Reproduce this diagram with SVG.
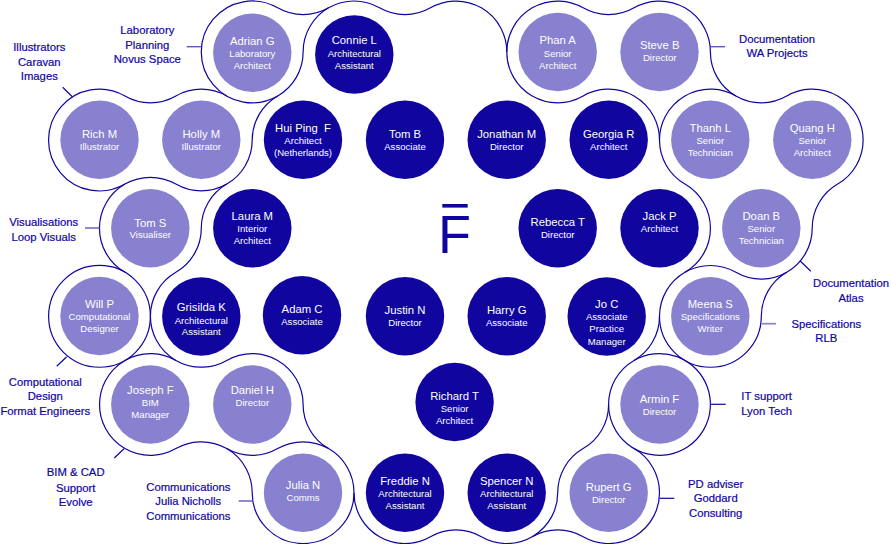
<svg xmlns="http://www.w3.org/2000/svg" width="891" height="544" viewBox="0 0 891 544">
<style>
text{font-family:"Liberation Sans",Arial,sans-serif;text-anchor:middle}
.d{fill:#10069f}.l{fill:#8781cf}
.n{font-size:11.3px;fill:#fff}
.r{font-size:9.6px;fill:#fff}
.t{font-size:11.3px;fill:#10069f;stroke:#10069f;stroke-width:.2}
.o{fill:none;stroke:#10069f;stroke-width:1.2}
.c{fill:none;stroke:#10069f;stroke-width:1.2}
.m{stroke:#5f57bd;stroke-width:1.4}
.p{stroke:#8781cf;stroke-width:1.7}
</style>
<rect width="891" height="544" fill="#fff"/>
<g id="outlines" class="o">
<path d="M328.55,7.85A50.9,50.9 0 0 1 379.5,7.85A50.9,50.9 0 0 0 430.45,7.85A50.9,50.9 0 0 1 506.8,51.9A50.9,50.9 0 0 0 583.15,96A50.9,50.9 0 0 1 659.5,140.05A50.9,50.9 0 0 0 684.95,184.1A50.9,50.9 0 0 1 684.95,272.3A50.9,50.9 0 0 0 659.5,316.35A50.9,50.9 0 0 1 634.05,360.4A50.9,50.9 0 0 0 608.6,404.5A50.9,50.9 0 0 1 583.15,448.6A50.9,50.9 0 0 0 557.7,492.65A50.9,50.9 0 0 1 481.35,536.7A50.9,50.9 0 0 0 430.45,536.7A50.9,50.9 0 0 1 354,492.65A50.9,50.9 0 0 0 328.55,448.6A50.9,50.9 0 0 1 303.1,404.5A50.9,50.9 0 0 0 226.75,360.4A50.9,50.9 0 0 1 150.4,316.35A50.9,50.9 0 0 1 175.85,272.3A50.9,50.9 0 0 0 201.3,228.2A50.9,50.9 0 0 1 226.75,184.1A50.9,50.9 0 0 0 252.2,140.05A50.9,50.9 0 0 1 277.65,96A50.9,50.9 0 0 0 303.1,51.9A50.9,50.9 0 0 1 328.55,7.85Z"/>
<path d="M277.65,96A50.9,50.9 0 1 1 277.65,7.85A50.9,50.9 0 0 0 328.55,7.85"/>
<path d="M226.75,96A50.9,50.9 0 0 0 175.85,96A50.9,50.9 0 0 1 124.95,96A50.9,50.9 0 1 0 124.95,184.1A50.9,50.9 0 0 1 175.85,184.1A50.9,50.9 0 0 0 226.75,184.1"/>
<path d="M124.95,184.1A50.9,50.9 0 0 0 124.95,272.3"/>
<circle cx="99.5" cy="316.35" r="50.9"/>
<path d="M175.85,360.4A50.9,50.9 0 1 0 175.85,448.6A50.9,50.9 0 0 1 252.2,492.65A50.9,50.9 0 0 0 303.1,543.55A50.9,50.9 0 0 0 354,492.65"/>
<path d="M226.75,448.6A50.9,50.9 0 0 0 277.65,448.6A50.9,50.9 0 0 1 328.55,448.6"/>
<path d="M506.8,51.9A50.9,50.9 0 0 1 583.15,7.85A50.9,50.9 0 0 0 634.05,7.85A50.9,50.9 0 0 1 710.4,51.9A50.9,50.9 0 0 0 786.75,96A50.9,50.9 0 0 1 863.1,140.05A50.9,50.9 0 0 1 837.65,184.1A50.9,50.9 0 0 0 812.2,228.2A50.9,50.9 0 0 1 786.75,272.3A50.9,50.9 0 0 1 735.85,272.3A50.9,50.9 0 0 0 684.95,272.3"/>
<path d="M786.75,272.3A50.9,50.9 0 0 0 761.3,316.35A50.9,50.9 0 0 1 710.4,367.25A50.9,50.9 0 0 1 659.5,316.35"/>
<path d="M659.5,140.05A50.9,50.9 0 0 1 735.85,96"/>
<path d="M634.05,360.4A50.9,50.9 0 1 1 608.6,404.5"/>
<path d="M634.05,448.6A50.9,50.9 0 0 1 659.5,492.65A50.9,50.9 0 0 1 583.15,536.7A50.9,50.9 0 0 0 532.25,536.7"/>
</g>
<g id="connectors" class="c">
<path class="m" d="M186.7,46.7H201.5"/>
<path d="M62.7,87.3L72.3,96.7"/>
<path class="m" d="M85,228H99.5"/>
<path class="m" d="M710.7,46.7H725"/>
<path d="M800,260.7L810.8,271.3"/>
<path class="p" d="M761.7,323.7H776"/>
<path d="M710.7,404.3H725.7"/>
<path d="M659.5,498.3H674.3"/>
<path d="M66.7,356.7L56.7,366.3"/>
<path d="M124,448.7L114.3,458"/>
<path class="m" d="M238.7,501H253"/>
</g>
<g id="logo" class="d">
<rect x="442.3" y="204" width="25.4" height="3.6"/>
<text x="438" y="252.7" style="font-size:54px;text-anchor:start;fill:#10069f">F</text>
</g>
<g id="adrian-g"><circle class="l" cx="252.3" cy="52.7" r="39.2"/><text class="n" x="252.3" y="45">Adrian G</text><text class="r" x="252.3" y="57.3">Laboratory</text><text class="r" x="252.3" y="69.3">Architect</text></g>
<g id="connie-l"><circle class="d" cx="354.3" cy="54.5" r="39.2"/><text class="n" x="354.3" y="44">Connie L</text><text class="r" x="354.3" y="56.7">Architectural</text><text class="r" x="354.3" y="68.7">Assistant</text></g>
<g id="phan-a"><circle class="l" cx="557.7" cy="52" r="39.2"/><text class="n" x="557.7" y="44.3">Phan A</text><text class="r" x="557.7" y="56.7">Senior</text><text class="r" x="557.7" y="68.7">Architect</text></g>
<g id="steve-b"><circle class="l" cx="659.5" cy="52" r="39.2"/><text class="n" x="659.7" y="49">Steve B</text><text class="r" x="659.7" y="61.3">Director</text></g>
<g id="rich-m"><circle class="l" cx="99.5" cy="139.8" r="39.2"/><text class="n" x="99.5" y="138.3">Rich M</text><text class="r" x="99.5" y="150">Illustrator</text></g>
<g id="holly-m"><circle class="l" cx="201.3" cy="139.8" r="39.2"/><text class="n" x="201.3" y="138.3">Holly M</text><text class="r" x="201.3" y="150">Illustrator</text></g>
<g id="hui-ping-f"><circle class="d" cx="303" cy="139.8" r="39.2"/><text class="n" x="303" y="132.3" xml:space="preserve">Hui Ping  F</text><text class="r" x="303" y="144.3">Architect</text><text class="r" x="303" y="156.3">(Netherlands)</text></g>
<g id="tom-b"><circle class="d" cx="405" cy="139.8" r="39.2"/><text class="n" x="405" y="138.3">Tom B</text><text class="r" x="405" y="150">Associate</text></g>
<g id="jonathan-m"><circle class="d" cx="506.7" cy="139.8" r="39.2"/><text class="n" x="506.7" y="138">Jonathan M</text><text class="r" x="506.7" y="150">Director</text></g>
<g id="georgia-r"><circle class="d" cx="608.7" cy="139.8" r="39.2"/><text class="n" x="608.7" y="138">Georgia R</text><text class="r" x="608.7" y="150">Architect</text></g>
<g id="thanh-l"><circle class="l" cx="710.3" cy="139.8" r="39.2"/><text class="n" x="710.3" y="132">Thanh L</text><text class="r" x="710.3" y="144.3">Senior</text><text class="r" x="710.3" y="156.3">Technician</text></g>
<g id="quang-h"><circle class="l" cx="812.3" cy="139.8" r="39.2"/><text class="n" x="812.3" y="132">Quang H</text><text class="r" x="812.3" y="144.3">Senior</text><text class="r" x="812.3" y="156.3">Architect</text></g>
<g id="tom-s"><circle class="l" cx="150.3" cy="228.2" r="39.2"/><text class="n" x="150.3" y="226.7">Tom S</text><text class="r" x="150.3" y="238.3">Visualiser</text></g>
<g id="laura-m"><circle class="d" cx="252.3" cy="228.2" r="39.2"/><text class="n" x="252.3" y="220">Laura M</text><text class="r" x="252.3" y="232.3">Interior</text><text class="r" x="252.3" y="244.3">Architect</text></g>
<g id="rebecca-t"><circle class="d" cx="557.7" cy="228.2" r="39.2"/><text class="n" x="557.7" y="226.3">Rebecca T</text><text class="r" x="557.7" y="238.3">Director</text></g>
<g id="jack-p"><circle class="d" cx="659.5" cy="228.2" r="39.2"/><text class="n" x="659.5" y="220">Jack P</text><text class="r" x="659.5" y="232">Architect</text></g>
<g id="doan-b"><circle class="l" cx="761.3" cy="228.2" r="39.2"/><text class="n" x="761.3" y="220">Doan B</text><text class="r" x="761.3" y="232.3">Senior</text><text class="r" x="761.3" y="244.3">Technician</text></g>
<g id="will-p"><circle class="l" cx="99.5" cy="316" r="39.2"/><text class="n" x="99.5" y="308">Will P</text><text class="r" x="99.5" y="320.3">Computational</text><text class="r" x="99.5" y="332.3">Designer</text></g>
<g id="grisilda-k"><circle class="d" cx="201.3" cy="316.5" r="39.2"/><text class="n" x="201.3" y="311">Grisilda K</text><text class="r" x="201.3" y="323.7">Architectural</text><text class="r" x="201.3" y="335.3">Assistant</text></g>
<g id="adam-c"><circle class="d" cx="302" cy="315.2" r="39.2"/><text class="n" x="302" y="313">Adam C</text><text class="r" x="302" y="325.3">Associate</text></g>
<g id="justin-n"><circle class="d" cx="405" cy="316.3" r="39.2"/><text class="n" x="405" y="314">Justin N</text><text class="r" x="405" y="326.3">Director</text></g>
<g id="harry-g"><circle class="d" cx="506.7" cy="316.3" r="39.2"/><text class="n" x="506.7" y="314">Harry G</text><text class="r" x="506.7" y="326.3">Associate</text></g>
<g id="jo-c"><circle class="d" cx="606.7" cy="316.5" r="39.2"/><text class="n" x="606.7" y="308">Jo C</text><text class="r" x="606.7" y="320.3">Associate</text><text class="r" x="606.7" y="332.3">Practice</text><text class="r" x="606.7" y="344.7">Manager</text></g>
<g id="meena-s"><circle class="l" cx="710.3" cy="316.2" r="39.2"/><text class="n" x="710.3" y="308">Meena S</text><text class="r" x="710.3" y="320.3">Specifications</text><text class="r" x="710.3" y="332.3">Writer</text></g>
<g id="joseph-f"><circle class="l" cx="150.3" cy="404.5" r="39.2"/><text class="n" x="150.3" y="394">Joseph F</text><text class="r" x="150.3" y="406.3">BIM</text><text class="r" x="150.3" y="418.3">Manager</text></g>
<g id="daniel-h"><circle class="l" cx="252.3" cy="404.5" r="39.2"/><text class="n" x="252.3" y="394">Daniel H</text><text class="r" x="252.3" y="406.3">Director</text></g>
<g id="richard-t"><circle class="d" cx="454.6" cy="402" r="39.2"/><text class="n" x="454.6" y="400">Richard T</text><text class="r" x="454.6" y="412.3">Senior</text><text class="r" x="454.6" y="424.3">Architect</text></g>
<g id="armin-f"><circle class="l" cx="659.5" cy="404.5" r="39.2"/><text class="n" x="659.5" y="403">Armin F</text><text class="r" x="659.5" y="415.3">Director</text></g>
<g id="julia-n"><circle class="l" cx="303" cy="492.8" r="39.2"/><text class="n" x="303" y="489">Julia N</text><text class="r" x="303" y="501.3">Comms</text></g>
<g id="freddie-n"><circle class="d" cx="405" cy="492.8" r="39.2"/><text class="n" x="405" y="485">Freddie N</text><text class="r" x="405" y="497.3">Architectural</text><text class="r" x="405" y="509.3">Assistant</text></g>
<g id="spencer-n"><circle class="d" cx="506.7" cy="492.8" r="39.2"/><text class="n" x="506.7" y="485">Spencer N</text><text class="r" x="506.7" y="497.3">Architectural</text><text class="r" x="506.7" y="509.3">Assistant</text></g>
<g id="rupert-g"><circle class="l" cx="608.7" cy="492.8" r="39.2"/><text class="n" x="608.7" y="491">Rupert G</text><text class="r" x="608.7" y="503.3">Director</text></g>
<g id="labels">
<text class="t" x="147.3" y="33.7">Laboratory</text><text class="t" x="147.3" y="48.7">Planning</text><text class="t" x="147.3" y="63">Novus Space</text>
<text class="t" x="39.3" y="50.7">Illustrators</text><text class="t" x="39.3" y="65.7">Caravan</text><text class="t" x="39.3" y="80">Images</text>
<text class="t" x="43.7" y="225.7">Visualisations</text><text class="t" x="43.7" y="240.7">Loop Visuals</text>
<text class="t" x="777" y="42.7">Documentation</text><text class="t" x="777" y="56.7">WA Projects</text>
<text class="t" x="851" y="287.3">Documentation</text><text class="t" x="851" y="301.7">Atlas</text>
<text class="t" x="826.3" y="327.7">Specifications</text><text class="t" x="826.3" y="341.7">RLB</text>
<text class="t" x="766.7" y="399.7">IT support</text><text class="t" x="766.7" y="414.7">Lyon Tech</text>
<text class="t" x="715.7" y="487.7">PD adviser</text><text class="t" x="715.7" y="502">Goddard</text><text class="t" x="715.7" y="517">Consulting</text>
<text class="t" x="45.3" y="385.7">Computational</text><text class="t" x="45.3" y="400">Design</text><text class="t" x="45.3" y="414.7">Format Engineers</text>
<text class="t" x="75.7" y="476.3">BIM &amp; CAD</text><text class="t" x="75.7" y="491.7">Support</text><text class="t" x="75.7" y="505.7">Evolve</text>
<text class="t" x="188.3" y="490.7">Communications</text><text class="t" x="188.3" y="504.7">Julia Nicholls</text><text class="t" x="188.3" y="519.7">Communications</text>
</g>
</svg>
